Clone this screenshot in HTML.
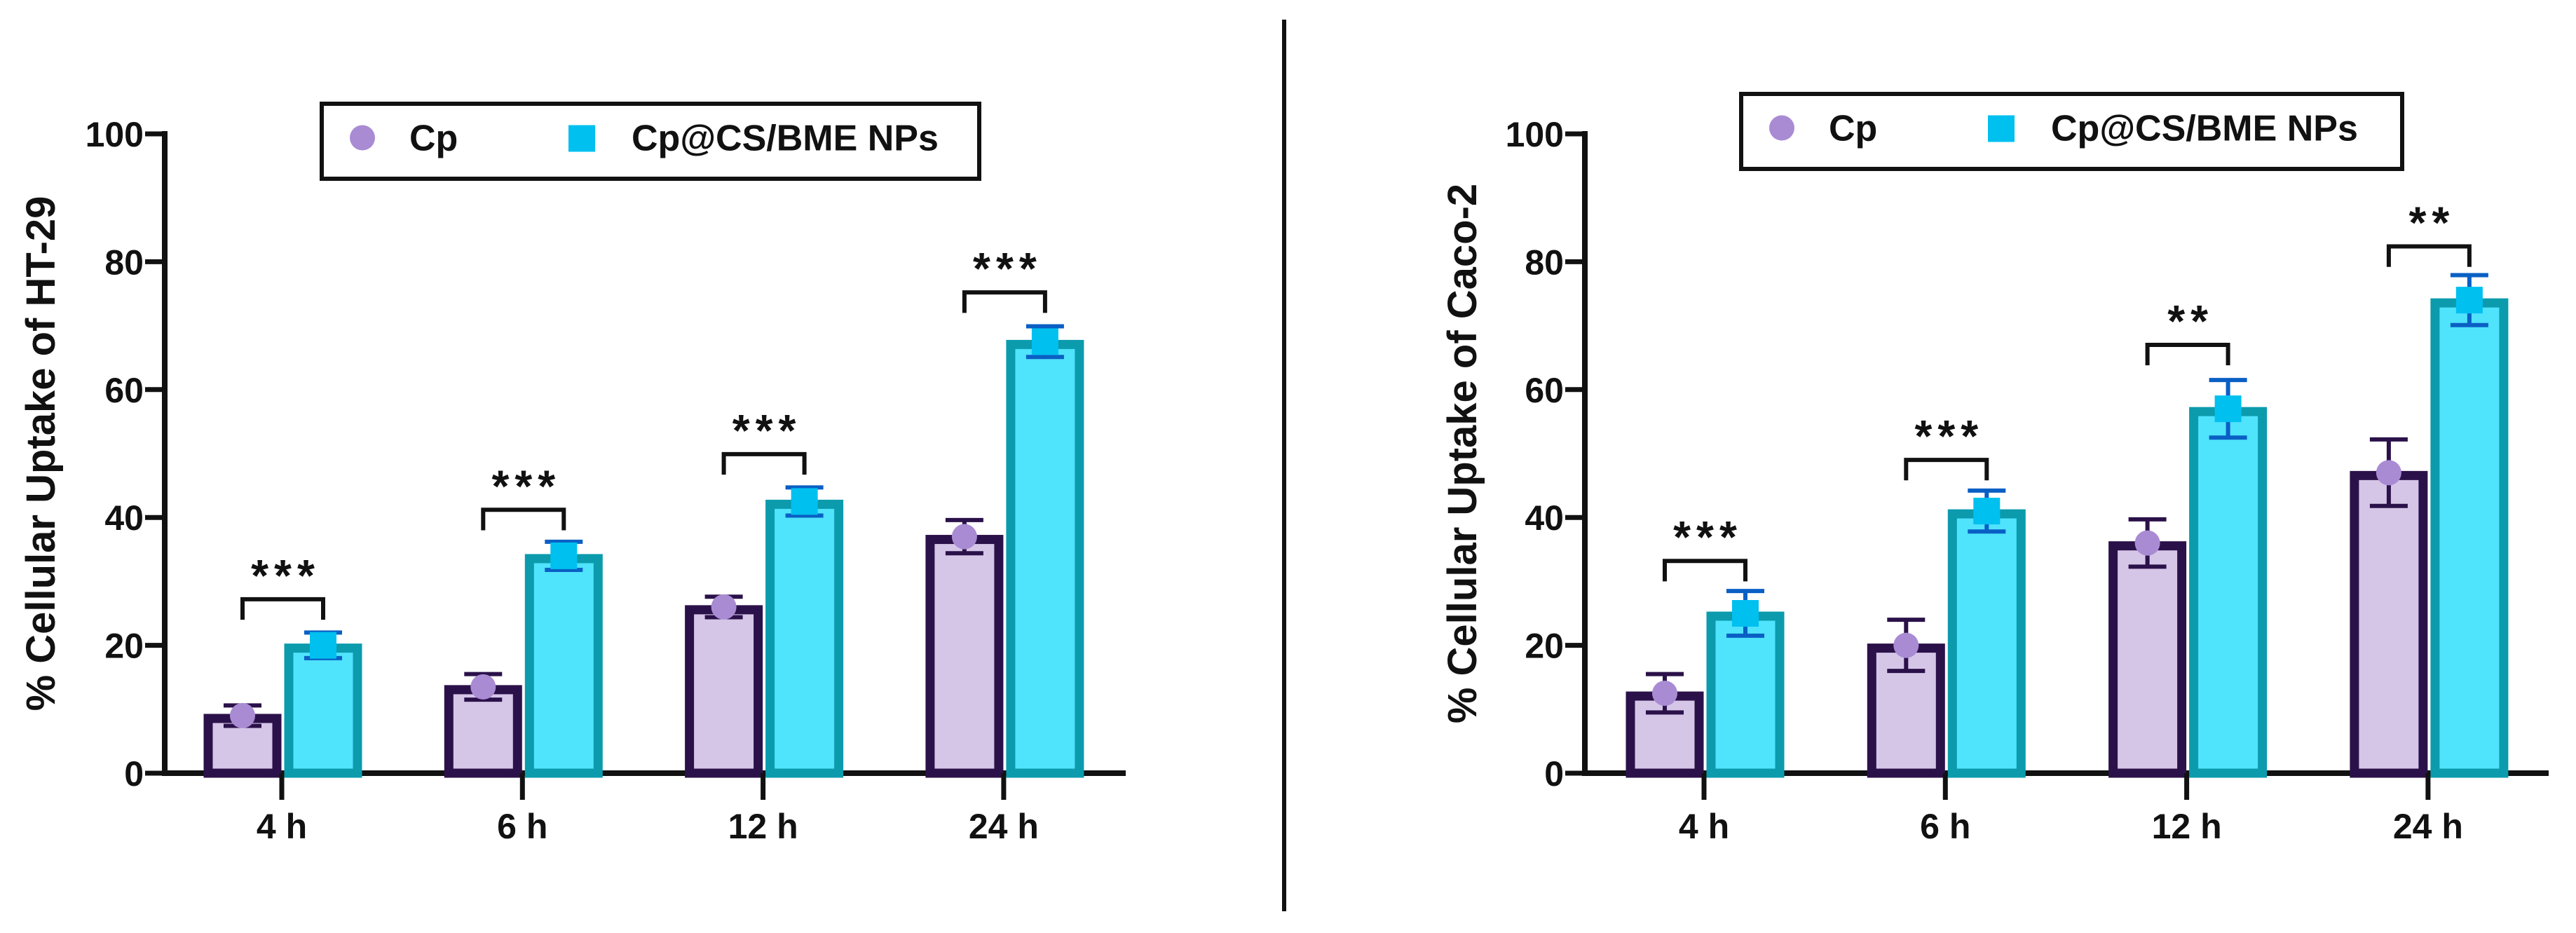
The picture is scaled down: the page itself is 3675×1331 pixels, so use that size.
<!DOCTYPE html>
<html><head><meta charset="utf-8"><style>
html,body{margin:0;padding:0;background:#fff;}
svg{display:block;}
text{font-family:"Liberation Sans",Arial,sans-serif;font-weight:bold;fill:#111;}
</style></head>
<body>
<svg id="chart" width="3675" height="1331" viewBox="0 0 3675 1331" xmlns="http://www.w3.org/2000/svg">
<line x1="1832" y1="28" x2="1832" y2="1300" stroke="#111" stroke-width="6"/>
</svg>
<script>
const categories = ["4 h","6 h","12 h","24 h"];
const yTicks = [0,20,40,60,80,100];
const ht29Cp = [9,13.5,26,37];
const ht29CpErr = [1.6,2,1.6,2.6];
const ht29Np = [20,34,42.5,67.5];
const ht29NpErr = [2,2.2,2.2,2.4];
const ht29Sig = ["***","***","***","***"];
const ht29SigLevel = [27.2,41.2,49.9,75.2];
const caco2Cp = [12.5,20,36,47];
const caco2CpErr = [3,4,3.7,5.2];
const caco2Np = [25,41,57,74];
const caco2NpErr = [3.5,3.2,4.5,3.9];
const caco2Sig = ["***","***","**","**"];
const caco2SigLevel = [33.2,49,67,82.4];

const NS = "http://www.w3.org/2000/svg";
const svg = document.getElementById('chart');
function mk(tag, attrs, parent, text){
  const e = document.createElementNS(NS, tag);
  for (const k in attrs) e.setAttribute(k, attrs[k]);
  if (text !== undefined) e.textContent = text;
  (parent||svg).appendChild(e);
  return e;
}

function drawPanel(cfg){
  const g = mk('g', {});
  
  
  const y0 = 1103, y100 = 191;
  const yS = v => y0 - (v/100)*(y0-y100);
  const xS = i => cfg.tick0 + i*cfg.step;
  const ya = mk('line', {x1:cfg.ax, y1:y100-4, x2:cfg.ax, y2:y0+4, stroke:'#111','stroke-width':8}, g);
  
  
  yTicks.forEach(t=>{
    const tl = mk('line', {x1:cfg.ax-28, y1:yS(t), x2:cfg.ax, y2:yS(t), stroke:'#111','stroke-width':7}, g);
    
    
    const tx = mk('text', {x:cfg.ax-30, y:yS(t)+18, 'text-anchor':'end','font-size':50}, g, String(t));
    
    
  });
  const yl = mk('text', {x:0,y:0,'text-anchor':'middle','font-size':58,transform:`translate(${cfg.ylx},${(y0+y100)/2}) rotate(-90)`}, g, cfg.ylabel);
  
  
  const xa = mk('line', {x1:cfg.ax-4, y1:y0, x2:cfg.axEnd, y2:y0, stroke:'#111','stroke-width':8}, g);
  
  
  categories.forEach((c,i)=>{
    const x = xS(i);
    const Cp = cfg.cp[i], Np = cfg.np[i];
    const cx = x-56, nx = x+59, bw = 98;
    const b1 = mk('rect', {x:cx-bw/2, y:yS(Cp)+4, width:bw, height:y0-yS(Cp)-4, fill:'#d5c6e8', stroke:'#2b1149','stroke-width':13}, g);
    
    
    const b2 = mk('rect', {x:nx-bw/2, y:yS(Np)+4, width:bw, height:y0-yS(Np)-4, fill:'#4fe3fc', stroke:'#0b9bad','stroke-width':13}, g);
    
    
    const e1 = cfg.cpErr[i], e2 = cfg.npErr[i];
    const eb1 = mk('path', {d:`M${cx},${yS(Cp+e1)}V${yS(Cp-e1)}M${cx-27},${yS(Cp+e1)}H${cx+27}M${cx-27},${yS(Cp-e1)}H${cx+27}`, stroke:'#2b1149','stroke-width':6,fill:'none'}, g);
    
    
    const eb2 = mk('path', {d:`M${nx},${yS(Np+e2)}V${yS(Np-e2)}M${nx-27},${yS(Np+e2)}H${nx+27}M${nx-27},${yS(Np-e2)}H${nx+27}`, stroke:'#0a5fc4','stroke-width':6,fill:'none'}, g);
    
    
    const m1 = mk('circle', {cx:cx, cy:yS(Cp), r:18, fill:'#a98bd4'}, g);
    
    
    const m2 = mk('rect', {x:nx-19, y:yS(Np)-19, width:38, height:38, fill:'#00c0f0'}, g);
    
    
    const xt = mk('line', {x1:x, y1:y0, x2:x, y2:y0+38, stroke:'#111','stroke-width':7}, g);
    
    
    const xl = mk('text', {x:x, y:1196, 'text-anchor':'middle','font-size':50}, g, c);
    
    
    const sl = yS(cfg.sigLevel[i]), sd = yS(cfg.sigLevel[i]-3.2);
    const br = mk('path', {d:`M${cx},${sd}V${sl}H${nx}V${sd}`, stroke:'#111','stroke-width':6,fill:'none'}, g);
    
    
    const st = mk('text', {x:(cx+nx)/2+4, y:sl-12, 'text-anchor':'middle','font-size':64,'letter-spacing':8}, g, cfg.sig[i]);
    
    
  });
  const lg = mk('g', {}, g);
  
  
  const L = cfg.legend;
  mk('rect', {x:L.x, y:L.y, width:L.w, height:L.h, fill:'#fff', stroke:'#111','stroke-width':6}, lg);
  const ly = L.y + L.h/2;
  const le1 = mk('circle', {cx:L.x+58, cy:ly-5, r:18, fill:'#a98bd4'}, lg);
  
  
  const lt1 = mk('text', {x:L.x+125, y:ly+13, 'font-size':52}, lg, 'Cp');
  
  
  const le2 = mk('rect', {x:L.x+352, y:ly-23, width:38, height:38, fill:'#00c0f0'}, lg);
  
  
  const lt2 = mk('text', {x:L.x+442, y:ly+13, 'font-size':52}, lg, 'Cp@CS/BME NPs');
  
  
}

drawPanel({name:'ht29-panel', ax:235, axEnd:1606, tick0:402, step:343.3, ylx:78,
  ylabel:'% Cellular Uptake of HT-29', cp:ht29Cp, cpErr:ht29CpErr, np:ht29Np, npErr:ht29NpErr,
  sig:ht29Sig, sigLevel:ht29SigLevel, legend:{x:459,y:148,w:938,h:107}});
drawPanel({name:'caco2-panel', ax:2261, axEnd:3636, tick0:2431, step:344.3, ylx:2106,
  ylabel:'% Cellular Uptake of Caco-2', cp:caco2Cp, cpErr:caco2CpErr, np:caco2Np, npErr:caco2NpErr,
  sig:caco2Sig, sigLevel:caco2SigLevel, legend:{x:2484,y:134,w:943,h:107}});
</script>
</body></html>
